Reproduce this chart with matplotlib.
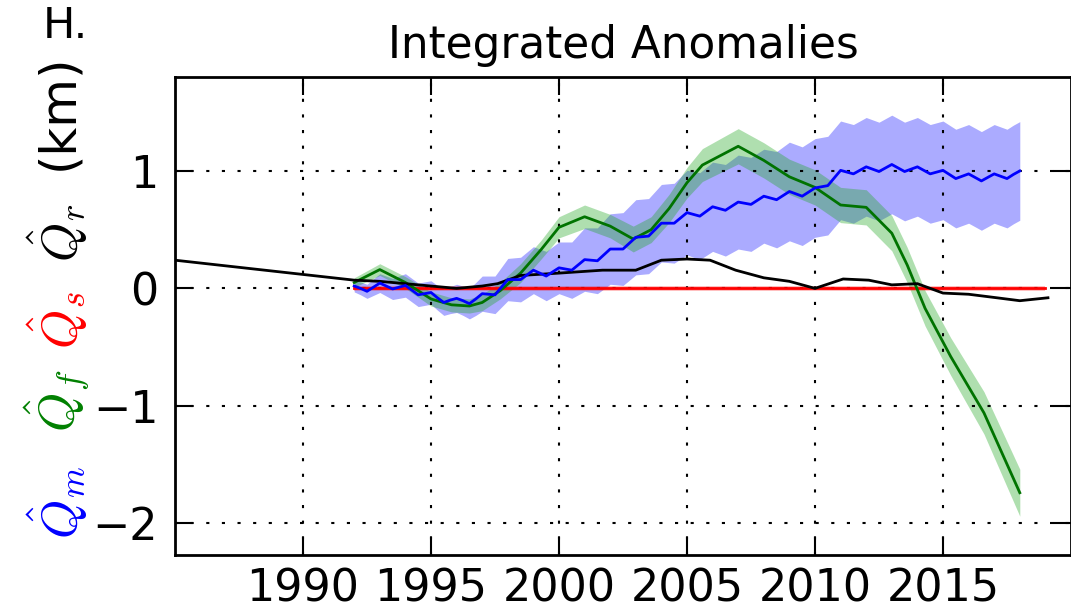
import numpy as np
import matplotlib
matplotlib.use("Agg")
import matplotlib.pyplot as plt

plt.rcParams['mathtext.fontset'] = 'cm'

# black line (Q_r)
yr_r = [1985.0, 1992.0, 1993.0, 1994.0, 1995.0, 1996.0, 1997.0, 1997.6, 1998.5, 2000.0,
        2001.7, 2003.0, 2004.0, 2005.0, 2005.9, 2006.9, 2008.0, 2009.0, 2010.0, 2011.1,
        2012.1, 2013.0, 2014.0, 2015.0, 2016.0, 2017.1, 2018.0, 2019.1]
q_r = [0.24, 0.07, 0.06, 0.04, 0.02, 0.0, 0.02, 0.04, 0.11, 0.13,
       0.155, 0.155, 0.24, 0.25, 0.24, 0.155, 0.09, 0.06, 0.0, 0.08,
       0.07, 0.03, 0.04, -0.04, -0.05, -0.08, -0.105, -0.08]

# red line (Q_s)
yr_s = [1992.0, 2019.0]
q_s = [0.0, 0.0]

# green line (Q_f) and half width of its band
yr_f = [1992.0, 1993.0, 1994.0, 1995.0, 1995.8, 1996.5, 1997.0, 1997.7, 1998.5, 1999.3,
        2000.0, 2001.0, 2002.0, 2002.9, 2003.6, 2004.3, 2005.0, 2005.6, 2007.0, 2008.0,
        2009.0, 2010.0, 2011.0, 2012.0, 2013.0, 2013.6, 2014.3, 2015.3, 2016.6, 2018.0]
q_f = [0.05, 0.16, 0.05, -0.09, -0.14, -0.15, -0.12, -0.02, 0.13, 0.33,
       0.52, 0.61, 0.53, 0.42, 0.50, 0.68, 0.90, 1.05, 1.21, 1.09,
       0.95, 0.86, 0.71, 0.69, 0.47, 0.20, -0.17, -0.58, -1.06, -1.74]
w_f = [0.04, 0.05, 0.05, 0.06, 0.06, 0.06, 0.07, 0.07, 0.08, 0.08,
       0.09, 0.10, 0.10, 0.11, 0.11, 0.12, 0.13, 0.14, 0.15, 0.15,
       0.15, 0.15, 0.15, 0.15, 0.15, 0.15, 0.15, 0.16, 0.18, 0.20]

# blue line (Q_m), quarter-year steps (seasonal wiggle)
yr_m = [1992.0, 1992.25, 1992.5, 1992.75, 1993.0, 1993.25, 1993.5, 1993.75,
        1994.0, 1994.25, 1994.5, 1994.75, 1995.0, 1995.25, 1995.5, 1995.75,
        1996.0, 1996.25, 1996.5, 1996.75, 1997.0, 1997.25, 1997.5, 1997.75,
        1998.0, 1998.25, 1998.5, 1998.75, 1999.0, 1999.25, 1999.5, 1999.75,
        2000.0, 2000.25, 2000.5, 2000.75, 2001.0, 2001.25, 2001.5, 2001.75,
        2002.0, 2002.25, 2002.5, 2002.75, 2003.0, 2003.25, 2003.5, 2003.75,
        2004.0, 2004.25, 2004.5, 2004.75, 2005.0, 2005.25, 2005.5, 2005.75,
        2006.0, 2006.25, 2006.5, 2006.75, 2007.0, 2007.25, 2007.5, 2007.75,
        2008.0, 2008.25, 2008.5, 2008.75, 2009.0, 2009.25, 2009.5, 2009.75,
        2010.0, 2010.25, 2010.5, 2010.75, 2011.0, 2011.25, 2011.5, 2011.75,
        2012.0, 2012.25, 2012.5, 2012.75, 2013.0, 2013.25, 2013.5, 2013.75,
        2014.0, 2014.25, 2014.5, 2014.75, 2015.0, 2015.25, 2015.5, 2015.75,
        2016.0, 2016.25, 2016.5, 2016.75, 2017.0, 2017.25, 2017.5, 2017.75,
        2018.0]
q_m = [0.02, 0.0, -0.025, 0.01, 0.045, 0.02, -0.005, 0.01,
       0.025, -0.015, -0.055, -0.045, -0.035, -0.08, -0.12, -0.10,
       -0.085, -0.105, -0.13, -0.09, -0.045, -0.05, -0.055, 0.01,
       0.075, 0.075, 0.075, 0.115, 0.155, 0.13, 0.105, 0.14,
       0.175, 0.165, 0.155, 0.20, 0.245, 0.24, 0.235, 0.285,
       0.335, 0.335, 0.335, 0.385, 0.435, 0.44, 0.445, 0.50,
       0.555, 0.555, 0.555, 0.60, 0.645, 0.63, 0.615, 0.655,
       0.695, 0.68, 0.665, 0.70, 0.735, 0.725, 0.715, 0.75,
       0.785, 0.77, 0.755, 0.79, 0.825, 0.805, 0.785, 0.82,
       0.855, 0.865, 0.875, 0.94, 1.005, 0.99, 0.975, 1.005,
       1.035, 1.015, 0.995, 1.025, 1.055, 1.025, 0.995, 1.015,
       1.035, 1.005, 0.975, 0.99, 1.005, 0.97, 0.935, 0.955,
       0.975, 0.945, 0.915, 0.945, 0.975, 0.955, 0.935, 0.97,
       1.0]
# half width of the blue band at the same times
w_m = [0.05, 0.055, 0.06, 0.07, 0.08, 0.085, 0.09, 0.095,
       0.10, 0.10, 0.10, 0.10, 0.10, 0.105, 0.11, 0.115,
       0.12, 0.125, 0.13, 0.14, 0.15, 0.155, 0.16, 0.17,
       0.18, 0.185, 0.19, 0.195, 0.20, 0.205, 0.21, 0.215,
       0.22, 0.23, 0.24, 0.255, 0.27, 0.275, 0.28, 0.29,
       0.30, 0.305, 0.31, 0.315, 0.32, 0.32, 0.32, 0.325,
       0.33, 0.335, 0.34, 0.35, 0.36, 0.365, 0.37, 0.375,
       0.38, 0.385, 0.39, 0.395, 0.40, 0.40, 0.40, 0.40,
       0.40, 0.405, 0.41, 0.415, 0.42, 0.42, 0.42, 0.42,
       0.42, 0.42, 0.42, 0.42, 0.42, 0.42, 0.42, 0.42,
       0.42, 0.42, 0.42, 0.42, 0.42, 0.42, 0.42, 0.42,
       0.42, 0.42, 0.42, 0.42, 0.42, 0.42, 0.42, 0.42,
       0.42, 0.42, 0.42, 0.42, 0.42, 0.42, 0.42, 0.42,
       0.42]

xticks = [1990, 1995, 2000, 2005, 2010, 2015]
yticks = [-2, -1, 0, 1]

fig = plt.figure(figsize=(10.71, 6.11), dpi=100)
ax = fig.add_axes([0.1634, 0.0917, 0.8366, 0.7823])

qm = np.array(q_m)
wm = np.array(w_m)
qf = np.array(q_f)
wf = np.array(w_f)

ax.fill_between(yr_m, qm - wm, qm + wm, color='b', alpha=0.33, lw=0)
ax.fill_between(yr_f, qf - wf, qf + wf, color=(0.1, 0.65, 0.1), alpha=0.35, lw=0)
ax.fill_between(yr_s, np.array(q_s) - 0.02, np.array(q_s) + 0.02, color='r', alpha=0.25, lw=0)
ax.plot(yr_s, q_s, color='r', lw=2)
ax.plot(yr_f, q_f, color=(0.0, 0.45, 0.0), lw=2)
ax.plot(yr_r, q_r, color='k', lw=2)
ax.plot(yr_m, q_m, color='b', lw=2)

ax.set_xlim(1985, 2020)
ax.set_ylim(-2.27, 1.8)
ax.set_xticks(xticks)
ax.set_yticks(yticks)
ax.set_yticklabels(['\u22122', '\u22121', '0', '1'])
ax.grid(True, color='k', linestyle=(0, (1.5, 6)), linewidth=1.5)
ax.tick_params(direction='in', length=13, width=1.5, top=True, right=True, labelsize=32)
ax.tick_params(axis='x', pad=9)
ax.tick_params(axis='y', pad=12)
for s in ax.spines.values():
    s.set_linewidth(2)

ax.set_title('Integrated Anomalies', fontsize=31.5, pad=14)

# coloured y label, one piece per quantity
fig.text(0.054, 1 - 502 / 611, r'$\hat{Q}_m$', color='b', rotation=90, fontsize=36, ha='center', va='center')
fig.text(0.054, 1 - 400 / 611, r'$\hat{Q}_f$', color='g', rotation=90, fontsize=36, ha='center', va='center')
fig.text(0.054, 1 - 320 / 611, r'$\hat{Q}_s$', color='r', rotation=90, fontsize=36, ha='center', va='center')
fig.text(0.054, 1 - 233 / 611, r'$\hat{Q}_r$', color='k', rotation=90, fontsize=36, ha='center', va='center')
fig.text(0.054, 1 - 112 / 611, '(km)', color='k', rotation=90, fontsize=36, ha='center', va='center')
fig.text(0.040, 1 - 38 / 611, 'H.', fontsize=31, ha='left', va='baseline')

fig.savefig('out.png', dpi=100)
